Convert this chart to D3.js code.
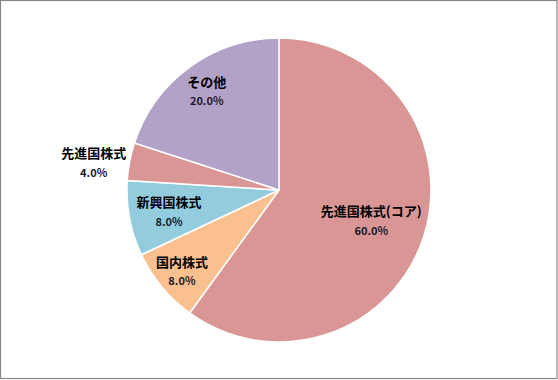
<!DOCTYPE html>
<html><head><meta charset="utf-8">
<script src="https://cdn.jsdelivr.net/npm/d3@7"></script>
<style>body{margin:0;background:#fff}svg{display:block}</style>
</head><body>
<svg id="c" width="558" height="380"></svg>
<script>
const categories = ["先進国株式(コア)", "国内株式", "新興国株式", "先進国株式", "その他"];
const values = [60, 8, 8, 4, 20];
const pctLabels = ["60.0%", "8.0%", "8.0%", "4.0%", "20.0%"];
const colors = ["#D99694", "#FAC090", "#93CDDD", "#D99694", "#B3A2C7"];
const labelRadii = [97, 126, 112, 150, 123];
const labelDx = [0, 0, 0, -38, 0];

const svg = d3.select("#c");
svg.append("rect").attr("x",0.5).attr("y",0.5).attr("width",556.5).attr("height",378)
  .attr("fill","#fff").attr("stroke","#868686").attr("stroke-width",1.2);

const cx = 279, cy = 190, R = 152;
const pie = d3.pie().sort(null).value(d => d)(values);
const arc = d3.arc().innerRadius(0).outerRadius(R);
const g = svg.append("g").attr("transform", `translate(${cx},${cy})`);
g.selectAll("path").data(pie).join("path")
  .attr("d", arc).attr("fill", (d,i) => colors[i])
  .attr("stroke", "#fff").attr("stroke-width", 1.5).attr("stroke-linejoin","round");

pie.forEach((d,i) => {
  const a = (d.startAngle + d.endAngle)/2;
  const x = Math.sin(a)*labelRadii[i] + labelDx[i];
  const y = -Math.cos(a)*labelRadii[i];
  const t = g.append("g").attr("transform", `translate(${x},${y})`);
  t.append("text").attr("y",-9).attr("text-anchor","middle").attr("dominant-baseline","central")
    .attr("font-family","'Noto Sans CJK JP', sans-serif").attr("font-weight","bold")
    .attr("font-size",13).attr("fill","#000").text(categories[i]);
  t.append("text").attr("y",10).attr("text-anchor","middle").attr("dominant-baseline","central")
    .attr("font-family","'Noto Sans CJK JP', sans-serif").attr("font-weight","bold")
    .attr("font-size",11).attr("fill","#1a1a2a").text(pctLabels[i]);
});
</script>
</body></html>
